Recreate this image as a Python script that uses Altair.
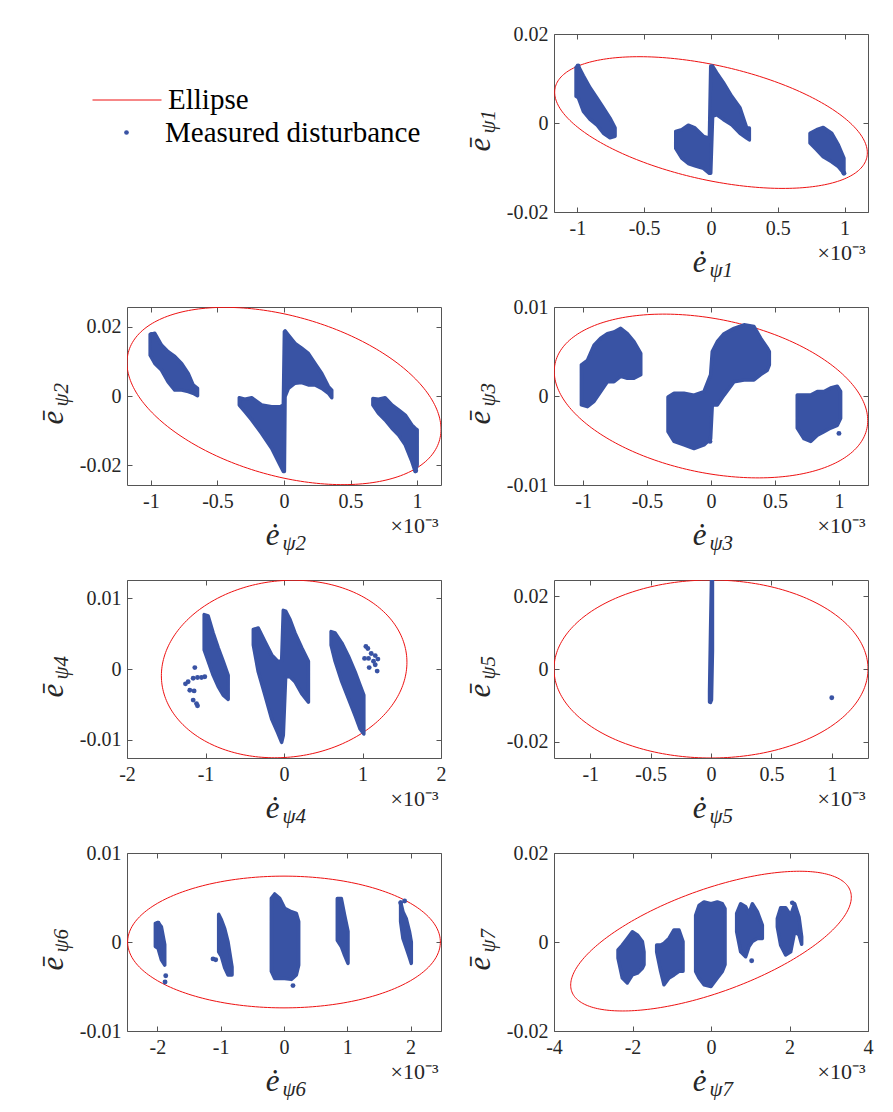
import numpy as np
import pandas as pd
import altair as alt

BLUE = "#3953a4"
RED = "#ee1111"
AXIS_GRAY = "#555555"
TEXT = "#262626"
FONT = "Liberation Serif"
W, H = 314, 178

# ---- axes (x values shown in units of 1e-3) ----
XDOM = [[-1.175, 1.175], [-1.18, 1.18], [-1.227, 1.227], [-2, 2], [-1.30, 1.30], [-2.48, 2.48], [-4, 4]]
YDOM = [[-0.02, 0.02], [-0.0257, 0.0257], [-0.01, 0.01], [-0.0126, 0.0126], [-0.0245, 0.0245], [-0.01, 0.01], [-0.02, 0.02]]
XTICKS = [[-1, -0.5, 0, 0.5, 1]] * 3 + [[-2, -1, 0, 1, 2], [-1, -0.5, 0, 0.5, 1], [-2, -1, 0, 1, 2], [-4, -2, 0, 2, 4]]
YTICKS = [[-0.02, 0, 0.02], [-0.02, 0, 0.02], [-0.01, 0, 0.01], [-0.01, 0, 0.01], [-0.02, 0, 0.02], [-0.01, 0, 0.01], [-0.02, 0, 0.02]]
SUBS = ["ψ1", "ψ2", "ψ3", "ψ4", "ψ5", "ψ6", "ψ7"]

# ---- ellipse parameters: centre, x half-extent, y half-extent, x-y coupling ----
ELL_CX = [0.0, 0.0, 0.0, 0.002, 0.0, 0.0, 0.0]
ELL_A = [1.17, 1.18, 1.225, 1.564, 1.30, 2.47, 3.575]
ELL_CY = [0.0001, 0.0, 0.0, 0.0, 0.0, 0.0, 0.0002]
ELL_B = [0.0148, 0.0256, 0.0092, 0.01257, 0.0245, 0.0074, 0.0157]
ELL_RHO = [-0.46, -0.375, -0.30, 0.076, 0.0, 0.0, 0.63]

# ---- measured disturbance clusters: (x, y_low, y_high) outlines ----
P1_BANDS = [
    [(-1.010, 0.0060, 0.0125), (-0.993, 0.0057, 0.0128), (-0.955, 0.0026, 0.0106), (-0.905, 0.0008, 0.0079),
     (-0.855, -0.0004, 0.0057), (-0.805, -0.0023, 0.0034), (-0.756, -0.0033, 0.0011), (-0.718, -0.0030, -0.0011)],
    [(-0.264, -0.0057, -0.0019), (-0.219, -0.0079, -0.0015), (-0.170, -0.0091, -0.0005), (-0.120, -0.0096, -0.0011),
     (-0.057, -0.0102, -0.0030), (-0.012, -0.0113, -0.0034), (-0.002, -0.0113, 0.0128), (0.012, 0.0015, 0.0128),
     (0.042, 0.0019, 0.0113), (0.092, 0.0008, 0.0091), (0.155, -0.0004, 0.0060), (0.217, -0.0023, 0.0034),
     (0.267, -0.0034, -0.0011), (0.287, -0.0038, -0.0011)],
    [(0.741, -0.0045, -0.0023), (0.791, -0.0060, -0.0015), (0.840, -0.0076, -0.0010), (0.903, -0.0087, -0.0023),
     (0.953, -0.0098, -0.0049), (0.995, -0.0113, -0.0079)],
]
P2_BANDS = [
    [(-1.006, 0.0118, 0.0178), (-0.971, 0.0094, 0.0181), (-0.921, 0.0075, 0.0147), (-0.871, 0.0041, 0.0128),
     (-0.821, 0.0017, 0.0114), (-0.770, 0.0017, 0.0094), (-0.720, 0.0013, 0.0065), (-0.683, 0.0008, 0.0032),
     (-0.650, 0.0001, 0.0022)],
    [(-0.336, -0.0026, -0.0005), (-0.294, -0.0045, -0.0009), (-0.243, -0.0069, -0.0005), (-0.168, -0.0108, -0.0026),
     (-0.093, -0.0151, -0.0031), (-0.030, -0.0199, -0.0031), (-0.005, -0.0218, -0.0026), (0.003, -0.0218, 0.0186),
     (0.008, -0.0002, 0.0188), (0.033, 0.0022, 0.0176), (0.083, 0.0037, 0.0152), (0.133, 0.0039, 0.0138),
     (0.183, 0.0032, 0.0123), (0.233, 0.0032, 0.0094), (0.284, 0.0022, 0.0065), (0.334, 0.0008, 0.0027),
     (0.359, -0.0005, 0.0017)],
    [(0.668, -0.0026, -0.0007), (0.710, -0.0050, -0.0009), (0.760, -0.0069, -0.0005), (0.811, -0.0093, -0.0026),
     (0.861, -0.0113, -0.0040), (0.911, -0.0141, -0.0055), (0.961, -0.0189, -0.0084), (0.986, -0.0218, -0.0093),
     (1.001, -0.0199, -0.0098)],
]
P3_BANDS = [
    [(-1.013, -0.0010, 0.0035), (-0.966, -0.0012, 0.0040), (-0.914, -0.0006, 0.0057), (-0.862, 0.0005, 0.0065),
     (-0.810, 0.0016, 0.0070), (-0.758, 0.0016, 0.0072), (-0.706, 0.0022, 0.0076), (-0.654, 0.0020, 0.0070),
     (-0.602, 0.0020, 0.0061), (-0.549, 0.0024, 0.0048)],
    [(-0.336, -0.0040, -0.0001), (-0.289, -0.0051, 0.0003), (-0.211, -0.0055, 0.0003), (-0.133, -0.0059, 0.0001),
     (-0.055, -0.0055, 0.0005), (-0.003, -0.0048, 0.0024), (0.010, -0.0010, 0.0050), (0.049, -0.0010, 0.0061),
     (0.102, 0.0001, 0.0070), (0.180, 0.0016, 0.0076), (0.258, 0.0018, 0.0080), (0.336, 0.0018, 0.0078),
     (0.388, 0.0024, 0.0065), (0.440, 0.0029, 0.0054), (0.456, 0.0035, 0.0050)],
    [(0.674, -0.0036, 0.0001), (0.727, -0.0048, 0.0001), (0.779, -0.0051, 0.0001), (0.831, -0.0044, 0.0005),
     (0.883, -0.0040, 0.0005), (0.935, -0.0036, 0.0009), (0.987, -0.0033, 0.0011), (1.013, -0.0025, 0.0005)],
]
P4_BANDS = [
    [(-1.017, 0.0027, 0.0077), (-0.966, 0.0011, 0.0075), (-0.902, -0.0009, 0.0051), (-0.838, -0.0025, 0.0030),
     (-0.774, -0.0037, 0.0011), (-0.711, -0.0043, -0.0009)],
    [(-0.391, 0.0034, 0.0056), (-0.328, -0.0004, 0.0058), (-0.243, -0.0037, 0.0039), (-0.157, -0.0071, 0.0020),
     (-0.081, -0.0090, 0.0011), (-0.030, -0.0104, 0.0011), (-0.009, -0.0094, 0.0083), (0.021, -0.0011, 0.0082),
     (0.077, -0.0011, 0.0070), (0.140, -0.0018, 0.0051), (0.226, -0.0035, 0.0030), (0.311, -0.0047, 0.0011)],
    [(0.600, 0.0034, 0.0053), (0.651, 0.0011, 0.0051), (0.736, -0.0018, 0.0037), (0.821, -0.0042, 0.0018),
     (0.906, -0.0066, -0.0004), (0.970, -0.0085, -0.0023), (1.017, -0.0092, -0.0037)],
]
P5_BANDS = [
    [(-0.012, -0.0091, -0.0060), (-0.004, -0.0092, 0.0100), (0.004, -0.0085, 0.0245), (0.012, 0.0050, 0.0245)],
]
P6_BANDS = [
    [(-2.032, -0.0005, 0.0021), (-1.989, -0.0007, 0.0022), (-1.937, -0.0020, 0.0017), (-1.884, -0.0026, -0.0003)],
    [(-1.032, -0.0011, 0.0031), (-0.989, -0.0016, 0.0025), (-0.937, -0.0029, 0.0015), (-0.884, -0.0037, 0.0000),
     (-0.821, -0.0037, -0.0028)],
    [(-0.200, -0.0033, 0.0049), (-0.147, -0.0041, 0.0054), (-0.068, -0.0041, 0.0049), (0.011, -0.0041, 0.0038),
     (0.116, -0.0042, 0.0034), (0.195, -0.0037, 0.0032), (0.232, -0.0026, 0.0023)],
    [(0.842, 0.0002, 0.0049), (0.905, -0.0005, 0.0049), (0.958, -0.0015, 0.0030), (1.011, -0.0024, 0.0012)],
    [(1.842, 0.0023, 0.0045), (1.879, 0.0004, 0.0034), (1.932, -0.0007, 0.0026), (1.984, -0.0018, 0.0011),
     (2.011, -0.0024, 0.0000)],
]
P7_BANDS = [
    [(-2.369, -0.0036, -0.0018), (-2.259, -0.0081, -0.0007), (-2.132, -0.0092, 0.0008), (-2.004, -0.0074, 0.0023),
     (-1.877, -0.0070, 0.0016), (-1.749, -0.0059, 0.0001), (-1.707, -0.0051, -0.0022)],
    [(-1.384, -0.0022, -0.0007), (-1.282, -0.0066, -0.0007), (-1.197, -0.0096, -0.0003), (-1.070, -0.0081, 0.0008),
     (-0.943, -0.0074, 0.0027), (-0.815, -0.0066, 0.0027), (-0.713, -0.0066, 0.0001)],
    [(-0.391, -0.0066, 0.0060), (-0.306, -0.0081, 0.0082), (-0.178, -0.0096, 0.0090), (0.000, -0.0100, 0.0086),
     (0.161, -0.0081, 0.0090), (0.289, -0.0066, 0.0086), (0.357, -0.0051, 0.0075)],
    [(0.654, 0.0023, 0.0064), (0.756, -0.0022, 0.0086), (0.883, -0.0033, 0.0079), (0.968, -0.0010, 0.0064),
     (1.053, 0.0001, 0.0086), (1.180, 0.0008, 0.0068), (1.308, 0.0008, 0.0038)],
    [(1.690, 0.0034, 0.0053), (1.775, -0.0007, 0.0077), (1.902, -0.0029, 0.0077), (2.030, -0.0022, 0.0060),
     (2.132, 0.0023, 0.0086), (2.242, 0.0016, 0.0056), (2.310, -0.0005, 0.0012)],
]
BANDS = [P1_BANDS, P2_BANDS, P3_BANDS, P4_BANDS, P5_BANDS, P6_BANDS, P7_BANDS]

# ---- isolated measured points ----
P1_POINTS = [(-0.995, 0.0128), (0.995, -0.0113)]
P2_POINTS = [(-0.995, 0.0178), (0.990, -0.0216)]
P3_POINTS = [(1.000, -0.0042), (-0.008, -0.0051)]
P4_POINTS = [(-1.255, -0.0021), (-1.221, -0.0018), (-1.157, -0.0013), (-1.102, -0.0012), (-1.051, -0.0012),
             (-1.009, -0.0011), (-1.136, 0.0002), (-1.200, -0.0030), (-1.145, -0.0031), (-1.157, -0.0044),
             (-1.115, -0.0049), (-1.102, -0.0052), (1.043, 0.0032), (1.068, 0.0029), (1.111, 0.0022),
             (1.162, 0.0019), (1.196, 0.0014), (1.140, 0.0011), (1.077, 0.0015), (1.026, 0.0015),
             (1.162, 0.0006), (1.187, -0.0003), (1.085, 0.0002)]
P5_POINTS = [(1.000, -0.0079)]
P6_POINTS = [(-1.868, -0.0038), (-1.879, -0.0045), (-1.121, -0.0019), (-1.079, -0.0020), (0.142, -0.0049),
             (1.842, 0.0044), (1.905, 0.0046), (-1.989, 0.0021)]
P7_POINTS = [(1.036, -0.0042), (2.072, 0.0088)]
POINTS = [P1_POINTS, P2_POINTS, P3_POINTS, P4_POINTS, P5_POINTS, P6_POINTS, P7_POINTS]


def ellipse_df(i):
    t = np.linspace(0, 2 * np.pi, 241)
    r = ELL_RHO[i]
    x = ELL_CX[i] + ELL_A[i] * np.cos(t)
    y = ELL_CY[i] + ELL_B[i] * (r * np.cos(t) + np.sqrt(1 - r * r) * np.sin(t))
    return pd.DataFrame({"k": np.arange(len(t)), "x": x, "y": y, "s": "Ellipse"})


def band_df(i):
    rows = []
    for c, cl in enumerate(BANDS[i]):
        for (x, lo, hi) in cl:
            rows.append({"c": c, "x": x, "lo": lo, "hi": hi})
    return pd.DataFrame(rows)


def pts_df(i):
    pts = POINTS[i]
    return pd.DataFrame({"x": [p[0] for p in pts], "y": [p[1] for p in pts],
                         "s": ["Measured disturbance"] * len(pts)})


LABEL_EXPR = "toString(datum.value)"
COMMON = dict(grid=False, labelFont=FONT, labelFontSize=20, labelColor=TEXT,
              titleFont=FONT, titleColor=TEXT, titleFontWeight="normal")


def axis_main_x(i):
    return alt.Axis(orient="bottom", values=XTICKS[i], labelExpr=LABEL_EXPR, ticks=False, domain=False,
                    labelFlush=False, labelOverlap=False, labelPadding=6,
                    title="ė", titleFontSize=31, titleFontStyle="italic",
                    titleX=W / 2 - 12, titleY=59, titleAlign="center", titleBaseline="alphabetic", **COMMON)


def axis_main_y(i):
    return alt.Axis(orient="left", values=YTICKS[i], labelExpr=LABEL_EXPR, ticks=False, domain=False,
                    labelFlush=False, labelOverlap=False, labelPadding=6,
                    title="ē", titleFontSize=31, titleFontStyle="italic", titleAngle=270,
                    titleX=-65, titleY=110, titleAlign="center", titleBaseline="alphabetic", **COMMON)


def axis_ticks(i, orient, with_mult=False):
    vals = XTICKS[i] if orient in ("bottom", "top") else YTICKS[i]
    kw = dict(orient=orient, values=vals, offset=-5, ticks=True, tickSize=5, tickColor=AXIS_GRAY, tickWidth=1,
              labels=False, domain=False, **COMMON)
    if with_mult:
        kw.update(title="×10⁻³", titleFontSize=22, titleX=W - 3, titleY=52, titleAlign="right",
                  titleBaseline="alphabetic")
    else:
        kw.update(title=None)
    return alt.Axis(**kw)


def axis_sub(i, orient):
    if orient == "bottom":
        return alt.Axis(orient="bottom", ticks=False, labels=False, domain=False, title=SUBS[i],
                        titleFontSize=21, titleFontStyle="italic", titleX=W / 2 - 2, titleY=64,
                        titleAlign="left", titleBaseline="alphabetic", **COMMON)
    return alt.Axis(orient="left", ticks=False, labels=False, domain=False, title=SUBS[i],
                    titleFontSize=21, titleFontStyle="italic", titleAngle=270, titleX=-60, titleY=99,
                    titleAlign="left", titleBaseline="alphabetic", **COMMON)


LEG1 = alt.Legend(orient="none", legendX=-35, legendY=31, title=None, symbolType="stroke", symbolSize=4761,
                  symbolStrokeWidth=1, labelFont=FONT, labelFontSize=29, labelColor="#000000",
                  labelOffset=6, labelLimit=600, padding=0)
LEG2 = alt.Legend(orient="none", legendX=-15, legendY=84, title=None, symbolType="circle", symbolSize=22,
                  labelFont=FONT, labelFontSize=29, labelColor="#000000", labelOffset=24, labelLimit=600,
                  padding=0)


def panel(i):
    xs = alt.Scale(domain=XDOM[i], nice=False, zero=False)
    ys = alt.Scale(domain=YDOM[i], nice=False, zero=False)
    ell = alt.Chart(ellipse_df(i)).mark_line(strokeWidth=1, clip=True).encode(
        x=alt.X("x:Q", scale=xs, axis=axis_main_x(i)),
        y=alt.Y("y:Q", scale=ys, axis=axis_main_y(i)),
        order="k:Q",
        color=alt.Color("s:N", scale=alt.Scale(domain=["Ellipse"], range=[RED]), legend=LEG1),
    )
    band = alt.Chart(band_df(i)).mark_area(color=BLUE, stroke=BLUE, strokeWidth=3.5, strokeJoin="round",
                                           opacity=1, clip=True).encode(
        x=alt.X("x:Q", scale=xs, axis=axis_ticks(i, "bottom", True)),
        y=alt.Y("lo:Q", scale=ys, axis=axis_ticks(i, "left")),
        y2="hi:Q",
        detail="c:N",
    )
    pts = alt.Chart(pts_df(i)).mark_circle(size=24, opacity=1, clip=True).encode(
        x=alt.X("x:Q", scale=xs, axis=axis_ticks(i, "top")),
        y=alt.Y("y:Q", scale=ys, axis=axis_ticks(i, "right")),
        fill=alt.Fill("s:N", scale=alt.Scale(domain=["Measured disturbance"], range=[BLUE]), legend=LEG2),
    )
    sub = alt.Chart(ellipse_df(i)).mark_line(opacity=0).encode(
        x=alt.X("x:Q", scale=xs, axis=axis_sub(i, "bottom")),
        y=alt.Y("y:Q", scale=ys, axis=axis_sub(i, "left")),
        order="k:Q",
    )
    return alt.layer(ell, band, pts, sub).resolve_axis(x="independent", y="independent").properties(
        width=W, height=H)


legend_cell = alt.Chart(pd.DataFrame({"v": [0]})).mark_point(opacity=0).properties(
    width=W, height=H, view=alt.ViewBackground(stroke="transparent"))

chart = alt.concat(legend_cell, *[panel(i) for i in range(7)], columns=2, bounds="flush",
                   spacing={"row": 95, "column": 113}).properties(
    padding={"left": 36, "top": 23, "right": 0, "bottom": 0}, background="white"
).configure_view(stroke=AXIS_GRAY, strokeWidth=1)

chart.save("out.html", embed_options={"renderer": "svg", "actions": False})
